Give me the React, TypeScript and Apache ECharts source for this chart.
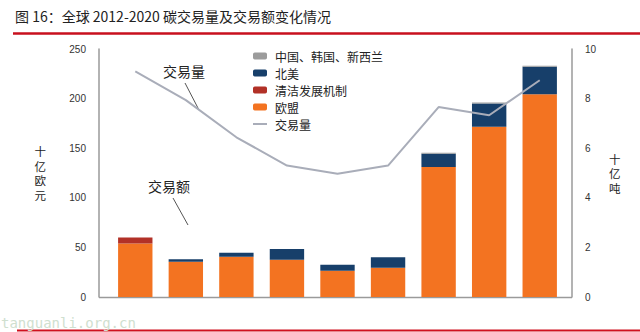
import React, { useEffect, useRef } from "react";
import * as echarts from "echarts";

const years = ["2012", "2013", "2014", "2015", "2016", "2017", "2018", "2019", "2020"];
const euValues = [54, 35.5, 40.5, 37.5, 26.5, 29.5, 131, 171.5, 204.5];
const cdmValues = [6, 0, 0, 0, 0, 0, 0, 0, 0];
const naValues = [0, 2.5, 4, 11, 6, 10.5, 13.5, 23.5, 27.5];
const asiaValues = [0, 0, 0, 0, 0, 0, 1, 1, 1];
const volumeValues = [9.1, 7.94, 6.44, 5.3, 4.97, 5.3, 7.66, 7.33, 8.74];

const leftAxisMax = 250;
const leftAxisInterval = 50;
const rightAxisMax = 10;
const rightAxisInterval = 2;

const titleText = "图 16：全球 2012-2020 碳交易量及交易额变化情况";

const FONT = "'Liberation Sans', Arial, 'Noto Sans CJK SC', sans-serif";
const CJK = "'Noto Sans CJK SC', 'Liberation Sans', sans-serif";

export default function App() {
  const ref = useRef<HTMLDivElement>(null);
  useEffect(() => {
    if (!ref.current) return;
    const chart = echarts.init(ref.current, undefined, { renderer: "svg" });
    const axisLine = { show: true, lineStyle: { color: "#9a9a9a", width: 1.5 } };
    const barBase = { type: "bar", stack: "total", barWidth: "68%", yAxisIndex: 0 };
    const nameStyle = { fontSize: 11.5, color: "#222", lineHeight: 14.5, fontFamily: CJK };
    chart.setOption({
      animation: false,
      backgroundColor: "#ffffff",
      textStyle: { fontFamily: FONT },
      grid: { left: 110, right: 75, top: 49, bottom: 35 },
      legend: {
        orient: "vertical",
        left: 248,
        top: 45,
        itemWidth: 14,
        itemHeight: 7,
        itemGap: 5,
        data: [
          { name: "中国、韩国、新西兰" },
          { name: "北美" },
          { name: "清洁发展机制" },
          { name: "欧盟" },
          { name: "交易量", icon: "path://M0,0 H14 V2 H0 Z", itemStyle: { color: "#a9adb9" } },
        ],
        textStyle: { fontSize: 12, color: "#222", fontFamily: CJK, lineHeight: 12, padding: [0, 0, 0, 3] },
      },
      xAxis: {
        type: "category",
        data: years,
        axisLine: { show: false },
        axisTick: { show: false },
        axisLabel: { show: false },
      },
      yAxis: [
        {
          type: "value",
          position: "left",
          offset: 11,
          min: 0,
          max: leftAxisMax,
          interval: leftAxisInterval,
          axisLine,
          axisTick: { show: false },
          splitLine: { show: false },
          axisLabel: { fontSize: 10, color: "#333", margin: 13 },
          name: "十\n亿\n欧\n元",
          nameLocation: "middle",
          nameRotate: 0,
          nameGap: 53,
          nameTextStyle: nameStyle,
        },
        {
          type: "value",
          position: "right",
          offset: 7,
          min: 0,
          max: rightAxisMax,
          interval: rightAxisInterval,
          axisLine,
          axisTick: { show: false },
          splitLine: { show: false },
          axisLabel: { fontSize: 10, color: "#333", margin: 13 },
          name: "十\n亿\n吨",
          nameLocation: "middle",
          nameRotate: 0,
          nameGap: 37,
          nameTextStyle: nameStyle,
        },
      ],
      series: [
        { ...barBase, name: "欧盟", data: euValues, itemStyle: { color: "#f37321" } },
        { ...barBase, name: "清洁发展机制", data: cdmValues, itemStyle: { color: "#b23127" } },
        { ...barBase, name: "北美", data: naValues, itemStyle: { color: "#173f6a" } },
        { ...barBase, name: "中国、韩国、新西兰", data: asiaValues, itemStyle: { color: "#9c9c9c" } },
        {
          type: "line",
          name: "交易量",
          yAxisIndex: 1,
          data: volumeValues,
          symbol: "none",
          lineStyle: { color: "#a9adb9", width: 2 },
          itemStyle: { color: "#a9adb9" },
        },
      ],
      graphic: [
        {
          type: "text",
          left: 15,
          top: 9,
          style: { text: titleText, fontSize: 14, fill: "#222", fontFamily: CJK },
        },
        {
          type: "line",
          shape: { x1: 13, y1: 33.5, x2: 640, y2: 33.5 },
          style: { stroke: "#c8101e", lineWidth: 2.5 },
        },
        {
          type: "line",
          shape: { x1: 17, y1: 330.5, x2: 640, y2: 330.5 },
          style: { stroke: "#d0101e", lineWidth: 2 },
        },
        {
          type: "line",
          shape: { x1: 99, y1: 297.5, x2: 572, y2: 297.5 },
          style: { stroke: "#9a9a9a", lineWidth: 1.5 },
        },
        {
          type: "text",
          left: 163,
          top: 64,
          style: { text: "交易量", fontSize: 14, fill: "#222", fontFamily: CJK },
        },
        {
          type: "line",
          shape: { x1: 185, y1: 83, x2: 199, y2: 110 },
          style: { stroke: "#555", lineWidth: 1 },
        },
        {
          type: "text",
          left: 148,
          top: 179,
          style: { text: "交易额", fontSize: 14, fill: "#222", fontFamily: CJK },
        },
        {
          type: "line",
          shape: { x1: 173, y1: 198, x2: 188, y2: 225 },
          style: { stroke: "#555", lineWidth: 1 },
        },
        {
          type: "text",
          left: 1,
          top: 316,
          style: {
            text: "tanguanli.org.cn",
            fontSize: 14,
            fill: "#cfe0cf",
            fontFamily: "'DejaVu Sans Mono', monospace",
          },
        },
      ],
    });
    return () => chart.dispose();
  }, []);
  return (
    <div
      ref={ref}
      style={{ position: "fixed", left: 0, top: 0, width: 640, height: 332 }}
    />
  );
}
